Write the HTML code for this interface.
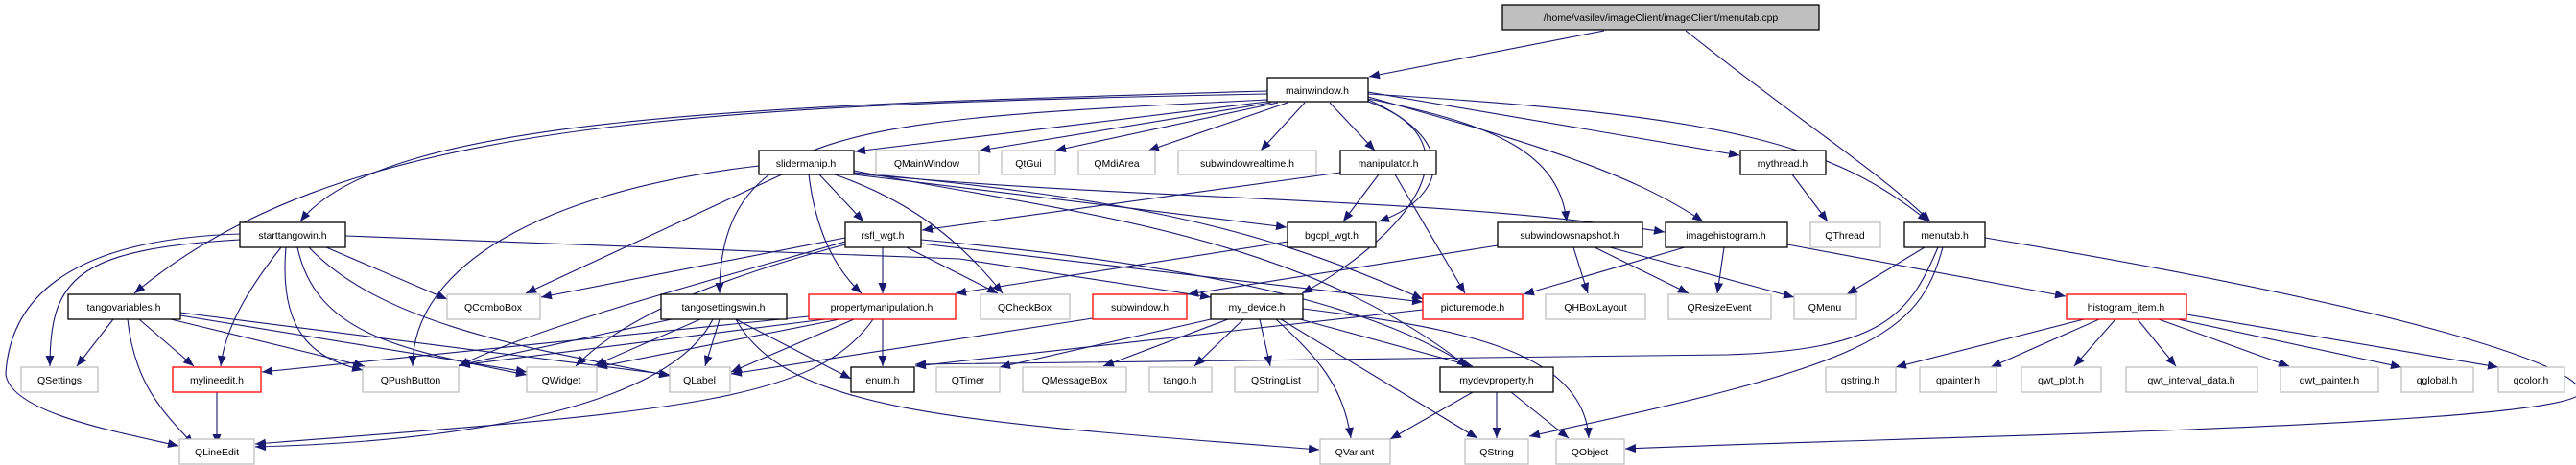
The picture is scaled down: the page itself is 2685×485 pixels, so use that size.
<!DOCTYPE html>
<html><head><meta charset="utf-8"><style>
html,body{margin:0;padding:0;background:#fff;width:2685px;height:485px;overflow:hidden}
svg{display:block}
text{font-family:"Liberation Sans",sans-serif;font-size:10.5px;fill:#000;text-anchor:middle}
.e{fill:none;stroke:#191970;stroke-width:1.1}
.b{fill:#fff;stroke:#000;stroke-width:1.3}
.g{fill:#fff;stroke:#bfbfbf;stroke-width:1.3}
.r{fill:#fff;stroke:#ff0000;stroke-width:1.3}
.t{fill:#bfbfbf;stroke:#000;stroke-width:1.3}
</style></head><body>
<svg width="2685" height="485" viewBox="0 0 2685 485" xmlns="http://www.w3.org/2000/svg">
<defs><marker id="a" markerUnits="userSpaceOnUse" markerWidth="12" markerHeight="10" refX="11" refY="4.5" orient="auto"><path d="M0,0 L11,4.5 L0,9 z" fill="#191970"/></marker></defs>
<g class="e" marker-end="url(#a)">
<path d="M1672,32 L1427,80"/>
<path d="M1757,32 C1880,130 1960,180 2012,231"/>
<path d="M1321,95 C800,110 400,120 313,231"/>
<path d="M1321,98 C700,110 350,130 140,306"/>
<path d="M1321,104 C900,125 750,130 750,306"/>
<path d="M1321,106 L891,158"/>
<path d="M1325,107 L1021,157"/>
<path d="M1332,107 L1100,157"/>
<path d="M1342,107 L1197,157"/>
<path d="M1360,107 L1314,157"/>
<path d="M1386,107 L1433,157"/>
<path d="M1426,96 L1813,162"/>
<path d="M1426,98 C1800,120 1910,150 2010,231"/>
<path d="M1426,104 C1530,150 1500,210 1437,231"/>
<path d="M1426,106 C1550,150 1460,250 1357,306"/>
<path d="M1426,103 C1560,130 1625,160 1633,231"/>
<path d="M1426,101 C1600,150 1700,180 1775,231"/>
<path d="M791,173 C560,200 430,280 430,382"/>
<path d="M815,182 L548,306"/>
<path d="M854,182 L900,231"/>
<path d="M843,182 C850,240 870,280 898,306"/>
<path d="M870,182 C950,210 1000,250 1045,306"/>
<path d="M890,182 L1341,237"/>
<path d="M890,181 C1200,210 1500,205 1735,242"/>
<path d="M890,180 C1150,205 1300,230 1483,312"/>
<path d="M890,178 C1100,220 1350,240 1530,383"/>
<path d="M1397,180 L961,240"/>
<path d="M1437,182 L1400,231"/>
<path d="M1454,182 L1527,306"/>
<path d="M250,250 C80,260 52,290 52,382"/>
<path d="M250,244 C60,250 10,320 6,390 C10,430 120,450 186,465"/>
<path d="M360,246 L1000,270 L1262,310"/>
<path d="M340,258 L466,312"/>
<path d="M293,258 C260,300 235,340 230,382"/>
<path d="M298,258 C290,350 330,375 378,386"/>
<path d="M310,258 C330,350 420,365 549,391"/>
<path d="M322,258 C400,340 560,365 698,392"/>
<path d="M118,333 L80,382"/>
<path d="M145,333 L202,382"/>
<path d="M133,333 C140,400 170,430 202,464"/>
<path d="M178,333 L380,382"/>
<path d="M188,329 L549,388"/>
<path d="M188,326 L698,391"/>
<path d="M700,333 L478,381"/>
<path d="M730,333 L620,381"/>
<path d="M750,333 L735,382"/>
<path d="M743,333 C700,420 500,460 266,466"/>
<path d="M767,333 L887,395"/>
<path d="M767,333 C820,430 1000,440 1375,469"/>
<path d="M881,248 L564,310"/>
<path d="M881,252 C750,290 560,340 478,382"/>
<path d="M881,255 C750,290 650,330 600,382"/>
<path d="M920,258 L920,306"/>
<path d="M945,258 L1040,306"/>
<path d="M960,254 L1483,315"/>
<path d="M960,250 C1300,280 1450,330 1530,382"/>
<path d="M1342,252 L996,306"/>
<path d="M843,330 L273,388"/>
<path d="M860,333 L479,381"/>
<path d="M875,333 L622,383"/>
<path d="M890,333 L762,388"/>
<path d="M910,333 C850,420 700,430 266,463"/>
<path d="M920,333 L920,382"/>
<path d="M1139,332 L762,390"/>
<path d="M1561,256 L1238,307"/>
<path d="M1640,258 L1655,306"/>
<path d="M1662,258 L1760,306"/>
<path d="M1678,258 L1870,310"/>
<path d="M1756,258 L1588,307"/>
<path d="M1797,258 L1790,306"/>
<path d="M1863,255 L2153,309"/>
<path d="M1483,323 L954,382"/>
<path d="M1262,333 L1042,383"/>
<path d="M1280,333 L1150,382"/>
<path d="M1296,333 L1245,382"/>
<path d="M1313,333 L1324,382"/>
<path d="M1330,333 C1370,370 1400,400 1408,457"/>
<path d="M1335,333 L1540,457"/>
<path d="M1355,333 L1535,382"/>
<path d="M1358,322 C1500,340 1650,360 1656,457"/>
<path d="M1535,409 L1449,458"/>
<path d="M1560,409 L1560,457"/>
<path d="M1575,409 L1635,457"/>
<path d="M226,409 L226,464"/>
<path d="M2006,258 L1925,307"/>
<path d="M2020,258 C1990,330 1960,365 1800,370 L954,380"/>
<path d="M2025,258 C2000,350 1950,380 1594,455"/>
<path d="M2069,248 C2500,320 2690,380 2690,410 C2670,445 2000,455 1694,468"/>
<path d="M1868,182 L1905,231"/>
<path d="M2172,333 L1976,383"/>
<path d="M2188,333 L2075,383"/>
<path d="M2205,333 L2162,382"/>
<path d="M2228,333 L2268,382"/>
<path d="M2250,333 L2386,382"/>
<path d="M2270,333 L2503,383"/>
<path d="M2279,328 L2604,383"/>
</g>
<g>
<rect class="t" x="1566" y="5" width="330" height="26"/><text x="1731" y="22">/home/vasilev/imageClient/imageClient/menutab.cpp</text>
<rect class="b" x="1321" y="81" width="105" height="25"/><text x="1373" y="98">mainwindow.h</text>
<rect class="b" x="791" y="157" width="99" height="25"/><text x="840" y="174">slidermanip.h</text>
<rect class="g" x="913" y="157" width="107" height="25"/><text x="966" y="174">QMainWindow</text>
<rect class="g" x="1044" y="157" width="56" height="25"/><text x="1072" y="174">QtGui</text>
<rect class="g" x="1124" y="157" width="80" height="25"/><text x="1164" y="174">QMdiArea</text>
<rect class="g" x="1228" y="157" width="144" height="25"/><text x="1300" y="174">subwindowrealtime.h</text>
<rect class="b" x="1397" y="157" width="100" height="25"/><text x="1447" y="174">manipulator.h</text>
<rect class="b" x="1814" y="157" width="89" height="25"/><text x="1858" y="174">mythread.h</text>
<rect class="b" x="250" y="232" width="110" height="26"/><text x="305" y="249">starttangowin.h</text>
<rect class="b" x="881" y="232" width="79" height="26"/><text x="920" y="249">rsfl_wgt.h</text>
<rect class="b" x="1342" y="232" width="92" height="26"/><text x="1388" y="249">bgcpl_wgt.h</text>
<rect class="b" x="1561" y="232" width="151" height="26"/><text x="1636" y="249">subwindowsnapshot.h</text>
<rect class="b" x="1736" y="232" width="127" height="26"/><text x="1799" y="249">imagehistogram.h</text>
<rect class="g" x="1887" y="232" width="73" height="26"/><text x="1923" y="249">QThread</text>
<rect class="b" x="1985" y="232" width="84" height="26"/><text x="2027" y="249">menutab.h</text>
<rect class="b" x="71" y="307" width="117" height="26"/><text x="129" y="324">tangovariables.h</text>
<rect class="g" x="466" y="307" width="97" height="26"/><text x="514" y="324">QComboBox</text>
<rect class="b" x="689" y="307" width="131" height="26"/><text x="754" y="324">tangosettingswin.h</text>
<rect class="r" x="843" y="307" width="153" height="26"/><text x="919" y="324">propertymanipulation.h</text>
<rect class="g" x="1022" y="307" width="93" height="26"/><text x="1068" y="324">QCheckBox</text>
<rect class="r" x="1139" y="307" width="98" height="26"/><text x="1188" y="324">subwindow.h</text>
<rect class="b" x="1262" y="307" width="96" height="26"/><text x="1310" y="324">my_device.h</text>
<rect class="r" x="1483" y="307" width="104" height="26"/><text x="1535" y="324">picturemode.h</text>
<rect class="g" x="1611" y="307" width="104" height="26"/><text x="1663" y="324">QHBoxLayout</text>
<rect class="g" x="1739" y="307" width="107" height="26"/><text x="1792" y="324">QResizeEvent</text>
<rect class="g" x="1870" y="307" width="65" height="26"/><text x="1902" y="324">QMenu</text>
<rect class="r" x="2154" y="307" width="125" height="26"/><text x="2216" y="324">histogram_item.h</text>
<rect class="g" x="22" y="383" width="80" height="26"/><text x="62" y="400">QSettings</text>
<rect class="r" x="180" y="383" width="92" height="26"/><text x="226" y="400">mylineedit.h</text>
<rect class="g" x="378" y="383" width="100" height="26"/><text x="428" y="400">QPushButton</text>
<rect class="g" x="549" y="383" width="73" height="26"/><text x="585" y="400">QWidget</text>
<rect class="g" x="698" y="383" width="63" height="26"/><text x="729" y="400">QLabel</text>
<rect class="b" x="887" y="383" width="66" height="26"/><text x="920" y="400">enum.h</text>
<rect class="g" x="976" y="383" width="66" height="26"/><text x="1009" y="400">QTimer</text>
<rect class="g" x="1066" y="383" width="108" height="26"/><text x="1120" y="400">QMessageBox</text>
<rect class="g" x="1198" y="383" width="65" height="26"/><text x="1230" y="400">tango.h</text>
<rect class="g" x="1287" y="383" width="87" height="26"/><text x="1330" y="400">QStringList</text>
<rect class="b" x="1501" y="383" width="118" height="26"/><text x="1560" y="400">mydevproperty.h</text>
<rect class="g" x="1903" y="383" width="73" height="26"/><text x="1939" y="400">qstring.h</text>
<rect class="g" x="2001" y="383" width="80" height="26"/><text x="2041" y="400">qpainter.h</text>
<rect class="g" x="2107" y="383" width="83" height="26"/><text x="2148" y="400">qwt_plot.h</text>
<rect class="g" x="2216" y="383" width="137" height="26"/><text x="2284" y="400">qwt_interval_data.h</text>
<rect class="g" x="2377" y="383" width="102" height="26"/><text x="2428" y="400">qwt_painter.h</text>
<rect class="g" x="2503" y="383" width="75" height="26"/><text x="2540" y="400">qglobal.h</text>
<rect class="g" x="2604" y="383" width="69" height="26"/><text x="2638" y="400">qcolor.h</text>
<rect class="g" x="187" y="458" width="78" height="26"/><text x="226" y="475">QLineEdit</text>
<rect class="g" x="1376" y="458" width="73" height="26"/><text x="1412" y="475">QVariant</text>
<rect class="g" x="1527" y="458" width="66" height="26"/><text x="1560" y="475">QString</text>
<rect class="g" x="1622" y="458" width="71" height="26"/><text x="1657" y="475">QObject</text>
</g>
</svg>
</body></html>
